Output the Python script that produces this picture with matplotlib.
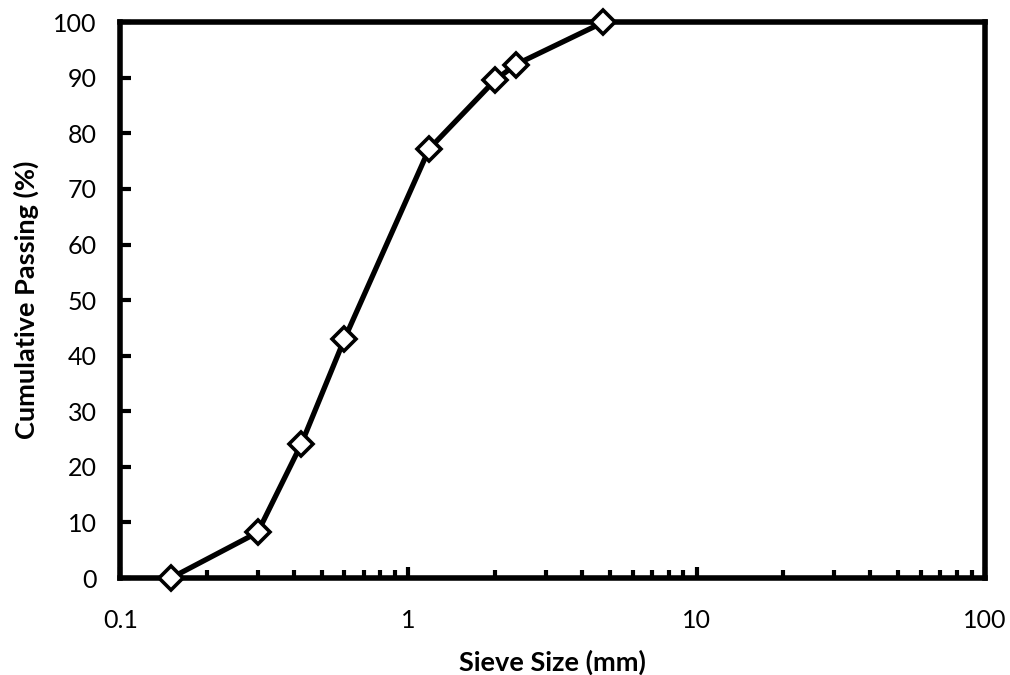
import numpy as np
import matplotlib
matplotlib.use("Agg")
import matplotlib.pyplot as plt
from matplotlib.ticker import LogLocator, FixedLocator, NullFormatter

# sieve analysis data
sieve_mm = [0.15, 0.3, 0.425, 0.6, 1.18, 2.0, 2.36, 4.75]
passing = [0.0, 8.2, 24.1, 43.0, 77.2, 89.6, 92.4, 100.0]

plt.rcParams['font.family'] = ['Lato', 'DejaVu Sans']

fig = plt.figure(figsize=(10.1, 6.75), dpi=100)
ax = fig.add_axes([0.119, 0.1437, 0.856, 0.8233])

ax.plot(sieve_mm, passing, color='black', lw=3.8, marker='D', ms=12.5,
        mfc='white', mec='black', mew=2.6, clip_on=False, zorder=5)

ax.set_xscale('log')
ax.set_xlim(0.1, 100)
ax.set_ylim(0, 100)
ax.set_yticks(np.arange(0, 101, 10))
ax.xaxis.set_major_locator(FixedLocator([0.1, 1, 10, 100]))
ax.set_xticklabels(['0.1', '1', '10', '100'])
ax.xaxis.set_minor_locator(LogLocator(base=10, subs=np.arange(2, 10)))
ax.xaxis.set_minor_formatter(NullFormatter())

for s in ax.spines.values():
    s.set_linewidth(4)

ax.tick_params(axis='both', which='major', direction='in', length=8, width=3,
               labelsize=18)
ax.tick_params(axis='y', pad=17)
ax.tick_params(axis='x', pad=22)
ax.tick_params(axis='x', which='minor', direction='in', length=6, width=3)
ax.tick_params(top=False, right=False)

ax.set_xlabel('Sieve Size (mm)', fontsize=19.5, fontweight='bold', labelpad=13)
ax.set_ylabel('Cumulative Passing (%)', fontsize=19.5, fontweight='bold', labelpad=10)

fig.savefig('out.png', dpi=100)
